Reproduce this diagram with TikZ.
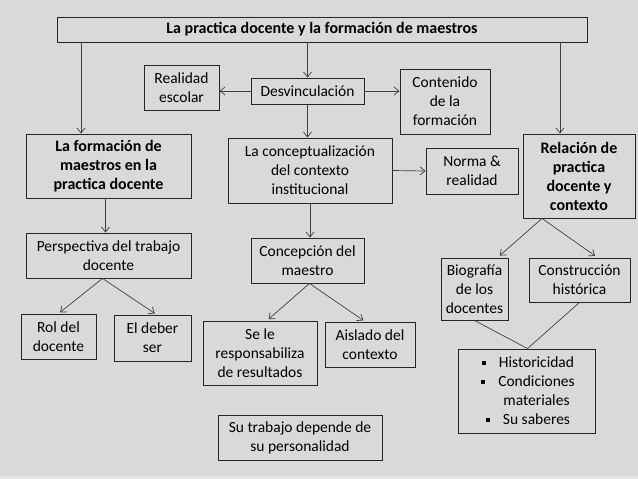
\documentclass[tikz,border=0pt]{standalone}
\usepackage{fontspec}
\setmainfont{Carlito}
\usetikzlibrary{positioning,arrows.meta}
\definecolor{bg}{HTML}{D9D9D9}
\definecolor{bgstrip}{HTML}{E4E4E4}
\newcommand{\sqbul}{\rule[3pt]{4pt}{4pt}}
\newcommand{\itm}[1]{\hspace*{20pt}\llap{\sqbul\hspace{13pt}}#1}

\begin{document}
\begin{tikzpicture}[
  x=1pt, y=-1pt,
  font=\fontsize{15.5}{19}\selectfont,
  box/.style={rectangle, draw=black!85, line width=0.9pt, inner sep=2pt, align=center},
  hdr/.style={box, font=\fontsize{16}{19}\selectfont\bfseries},
  sz/.style 2 args={minimum width=#1, minimum height=#2},
  arr/.style={-{Straight Barb[length=5pt,width=8pt]}, draw=black!75, line width=0.7pt},
  lnk/.style={draw=black!75, line width=0.7pt}
]
\useasboundingbox (0,0) rectangle (638,479);
\fill[bg] (0,0) rectangle (638,479);
\fill[bgstrip] (0,476) rectangle (638,479);

\node[hdr, sz={530}{25}] (title) at (322,29.5) {La practica docente y la formación de maestros};
\node[box, sz={75}{45}]  (realidad)  at (181.5,87.5) {Realidad\\escolar};
\node[box, sz={113}{26}] (desv)      at (307.5,91)   {Desvinculación};
\node[box, sz={90}{65}]  (contenido) at (445,101.5)  {Contenido\\de la\\formación};
\node[hdr, sz={165}{64}] (formacion) at (108.5,166)  {La formación de\\maestros en la\\practica docente};
\node[box, sz={164}{65}] (concept)   at (310,170.5)  {La conceptualización\\del contexto\\institucional};
\node[box, sz={92}{46}]  (norma)     at (472,171)    {Norma \&\\realidad};
\node[hdr, sz={112}{84}] (relacion)  at (579,176)    {Relación de\\practica\\docente y\\contexto};
\node[box, sz={165}{45}] (persp)      at (108.5,255.5) {Perspectiva del trabajo\\docente};
\node[box, sz={113}{45}] (concepcion) at (307.5,260.5) {Concepción del\\maestro};
\node[box, sz={67}{62}]  (biografia)  at (474.5,289)   {Biografía\\de los\\docentes};
\node[box, sz={101}{44}] (construccion) at (579.5,280) {Construcción\\histórica};
\node[box, sz={75}{45}]  (rol)       at (58.5,336.5) {Rol del\\docente};
\node[box, sz={77}{46}]  (deber)     at (152.5,338)  {El deber\\ser};
\node[box, sz={114}{64}] (resp)      at (260,353)    {Se le\\responsabiliza\\de resultados};
\node[box, sz={90}{45}]  (aislado)   at (370,344.5)  {Aislado del\\contexto};
\node[box, sz={137}{84}] (histor)    at (526.5,391)  {\itm{Historicidad}\\\itm{Condiciones}\\\hspace*{20pt}materiales\\\itm{Su saberes}};
\node[box, sz={164}{45}] (sutrabajo) at (300,437.5)  {Su trabajo depende de\\su personalidad};

\coordinate (lcol) at (81,0);
\coordinate (rcol) at (560,0);
\draw[arr] (title.south -| lcol) -- (formacion.north -| lcol);
\draw[arr] (title.south -| desv.north) -- (desv.north);
\draw[arr] (title.south -| rcol) -- (relacion.north -| rcol);
\draw[arr] (desv.west) -- (realidad.east |- desv.west);
\draw[arr] (desv.east) -- (contenido.west |- desv.east);
\draw[arr] (desv.south) -- (desv.south |- concept.north);
\draw[arr] (concept.east) -- (norma.west);
\draw[arr] ([xshift=-3]formacion.south) -- ([xshift=-3]persp.north);
\draw[arr] (concept.south) -- (concept.south |- concepcion.north);
\draw[arr, shorten >=2pt] ([xshift=-6]persp.south) -- (rol.north);
\draw[arr, shorten >=2pt] ([xshift=-6]persp.south) -- ([xshift=4]deber.north);
\draw[arr, shorten >=2pt] ([xshift=2]concepcion.south) -- ([xshift=7]resp.north);
\draw[arr, shorten >=2pt] ([xshift=2]concepcion.south) -- ([xshift=-5]aislado.north);
\draw[arr, shorten >=3pt] ([xshift=-37]relacion.south) -- ([xshift=23]biografia.north);
\draw[arr, shorten >=3pt] ([xshift=-37]relacion.south) -- ([xshift=18]construccion.north);
\draw[lnk] (biografia.south) -- ([xshift=1]histor.north);
\draw[lnk] (construccion.south) -- ([xshift=1]histor.north);
\end{tikzpicture}
\end{document}
